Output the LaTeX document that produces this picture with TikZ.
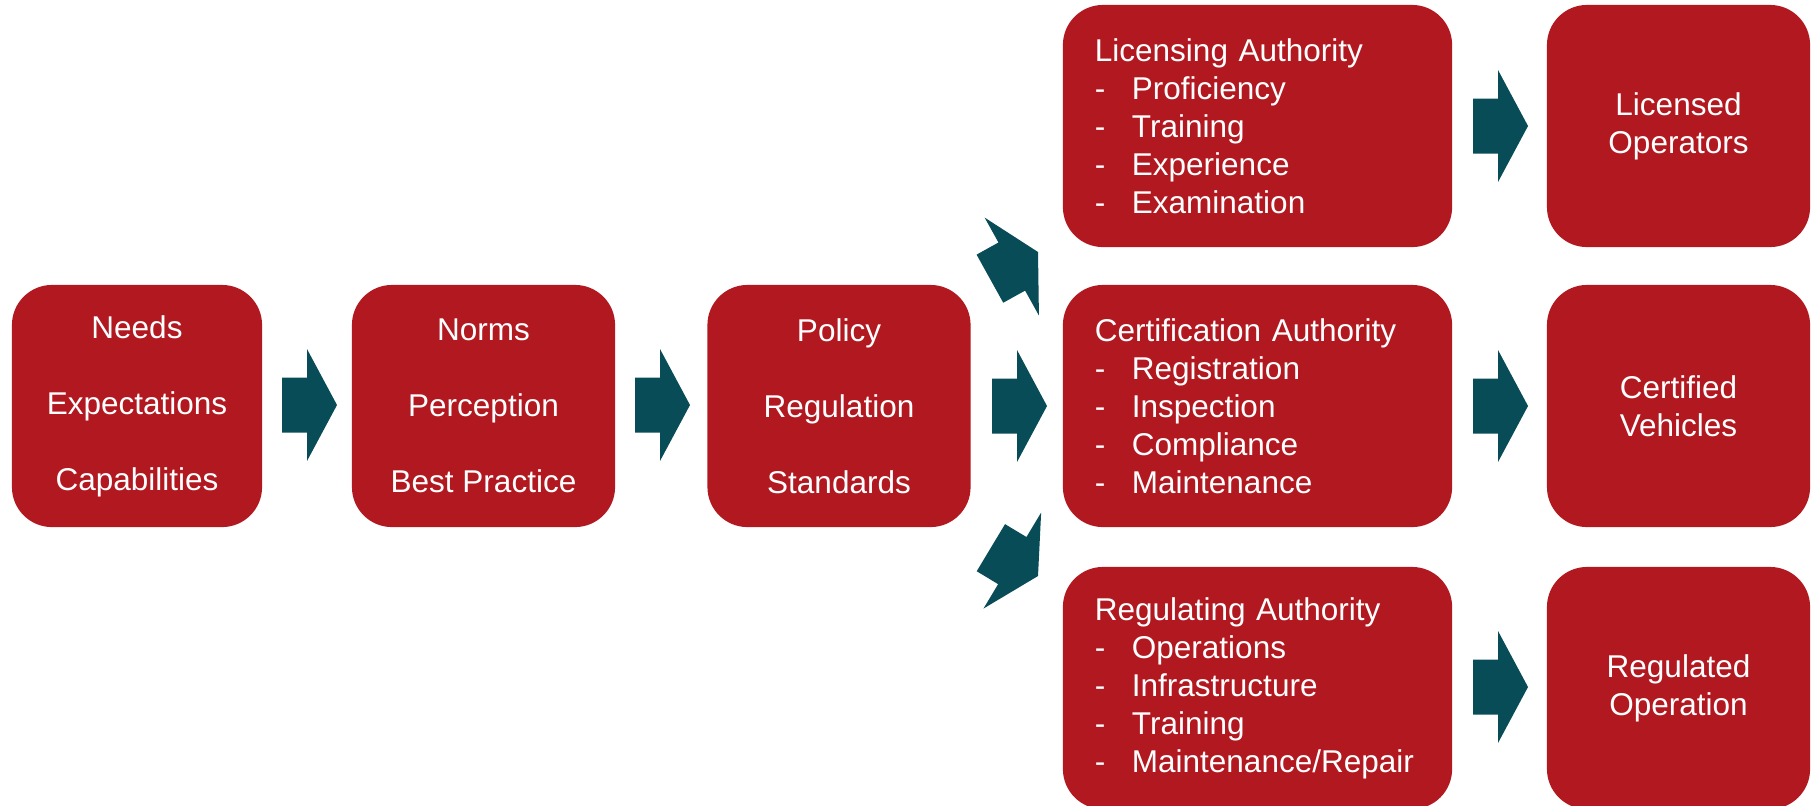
\documentclass[tikz,border=0pt]{standalone}
\usepackage{fontspec}
\setmainfont{Liberation Sans}
\usepackage{tikz}

\definecolor{boxred}{RGB}{178,24,32}
\definecolor{arrowteal}{RGB}{8,76,87}
\newcommand{\dashitem}[1]{\makebox[0.37cm][l]{-}#1}

\begin{document}
\begin{tikzpicture}[x=0.01cm, y=-0.01cm,
  box/.style={fill=boxred, rounded corners=0.4cm, text=white, inner sep=0pt,
    font=\fontsize{8.96pt}{10.8pt}\selectfont, align=center,
    minimum height=2.42cm},
  stagebox/.style={box, minimum width=2.63cm},
  listbox/.style={box, minimum width=3.89cm, text width=3.25cm, align=left},
  blockarrow/.pic={
    \fill[arrowteal] (-55,-27.5) -- (-30,-27.5) -- (-30,-56) -- (0,0)
      -- (-30,56) -- (-30,27.5) -- (-55,27.5) -- cycle;
  }]
  \useasboundingbox (0,0) rectangle (1816,805);

  % chain on the left
  \node[stagebox, minimum width=2.5cm] (needs) at (137,406) {Needs\\[10.8pt]Expectations\\[10.8pt]Capabilities};
  \node[stagebox] (norms) at (483.5,406) {Norms\\[10.8pt]Perception\\[10.8pt]Best Practice};
  \node[stagebox] (policy) at (839,406) {Policy\\[10.8pt]Regulation\\[10.8pt]Standards};

  % authorities
  \node[listbox] (licensing) at (1257.5,126) {Licensing Authority\\\dashitem{Proficiency}\\\dashitem{Training}\\\dashitem{Experience}\\\dashitem{Examination}};
  \node[listbox] (certification) at (1257.5,406) {Certification Authority\\\dashitem{Registration}\\\dashitem{Inspection}\\\dashitem{Compliance}\\\dashitem{Maintenance}};
  \node[listbox] (regulating) at (1257.5,688) {Regulating Authority\\\dashitem{Operations}\\\dashitem{Infrastructure}\\\dashitem{Training}\\\dashitem{Maintenance/Repair}};

  % outcomes
  \node[stagebox] (operators) at (1678.5,126) {Licensed\\Operators};
  \node[stagebox] (vehicles) at (1678.5,406) {Certified\\Vehicles};
  \node[stagebox] (operation) at (1678.5,688) {Regulated\\Operation};

  % arrows
  \pic at (337,405) {blockarrow};
  \pic at (690,405) {blockarrow};
  \pic[rotate=29] at (1038,252) {blockarrow};
  \pic at (1047,406) {blockarrow};
  \pic[rotate=-31] at (1038,576) {blockarrow};
  \pic at (1528,126) {blockarrow};
  \pic at (1528,406) {blockarrow};
  \pic at (1528,687) {blockarrow};
\end{tikzpicture}
\end{document}
